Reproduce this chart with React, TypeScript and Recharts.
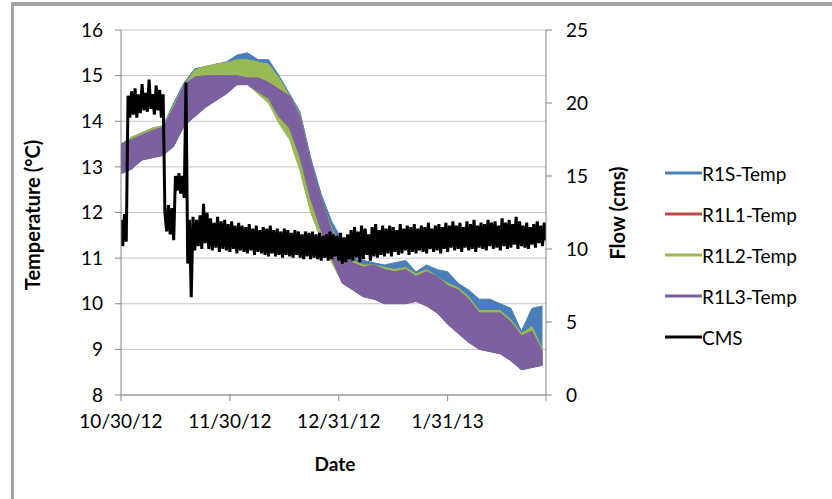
import React from "react";
import { Area, CartesianGrid, ComposedChart, Line, XAxis, YAxis } from "recharts";

// days since 10/30/12
const tickDays = [0, 31, 62, 93, 121];
const tickLabels = ["10/30/12", "11/30/12", "12/31/12", "1/31/13", ""];
const tempTicks = [8, 9, 10, 11, 12, 13, 14, 15, 16];
const flowTicks = [0, 5, 10, 15, 20, 25];

const tDays = [0, 3, 6, 9, 12, 15, 18, 21, 24, 27, 30, 33, 36, 39, 42, 45, 48, 51, 54, 57, 60, 63, 66, 69, 72, 75, 78, 81, 84, 87, 90, 93, 96, 99, 102, 105, 108, 111, 114, 117, 120];

const r1sLo = [12.9, 13.0, 13.2, 13.25, 13.3, 13.5, 13.95, 14.15, 14.35, 14.5, 14.65, 14.85, 14.85, 14.7, 14.55, 14.2, 13.95, 13.4, 12.5, 11.75, 11.1, 10.5, 10.35, 10.2, 10.15, 10.05, 10.05, 10.05, 10.1, 10.0, 9.85, 9.6, 9.4, 9.2, 9.05, 9.0, 8.95, 8.8, 8.6, 8.65, 8.7];
const r1sHi = [13.5, 13.65, 13.75, 13.85, 13.9, 14.4, 14.85, 15.15, 15.2, 15.25, 15.3, 15.45, 15.5, 15.35, 15.35, 15.0, 14.6, 14.2, 13.2, 12.4, 11.8, 11.4, 11.0, 10.95, 10.9, 10.85, 10.9, 10.95, 10.7, 10.85, 10.75, 10.7, 10.45, 10.3, 10.1, 10.1, 10.0, 9.9, 9.4, 9.9, 9.95];
const r1l1Lo = [12.86, 12.96, 13.16, 13.21, 13.26, 13.46, 13.91, 14.11, 14.31, 14.46, 14.61, 14.81, 14.81, 14.66, 14.51, 14.11, 13.86, 13.21, 12.31, 11.61, 11.01, 10.46, 10.31, 10.16, 10.11, 10.01, 10.01, 10.01, 10.06, 9.96, 9.81, 9.56, 9.36, 9.16, 9.01, 8.96, 8.91, 8.76, 8.56, 8.61, 8.66];
const r1l1Hi = [13.45, 13.55, 13.65, 13.75, 13.82, 14.25, 14.75, 14.92, 14.95, 14.95, 14.95, 14.95, 14.9, 14.9, 14.8, 14.65, 14.5, 14.05, 13.05, 12.25, 11.55, 11.15, 10.85, 10.75, 10.8, 10.7, 10.65, 10.7, 10.55, 10.65, 10.55, 10.35, 10.25, 10.05, 9.75, 9.75, 9.75, 9.55, 9.25, 9.35, 8.9];
const r1l2Lo = [12.86, 12.96, 13.16, 13.21, 13.26, 13.46, 13.91, 14.11, 14.31, 14.46, 14.61, 14.81, 14.81, 14.6, 14.4, 13.95, 13.6, 12.9, 12.0, 11.4, 10.9, 10.46, 10.31, 10.16, 10.11, 10.01, 10.01, 10.01, 10.06, 9.96, 9.81, 9.56, 9.36, 9.16, 9.01, 8.96, 8.91, 8.76, 8.56, 8.61, 8.66];
const r1l2Hi = [13.5, 13.65, 13.75, 13.85, 13.9, 14.35, 14.8, 15.12, 15.2, 15.25, 15.28, 15.35, 15.35, 15.3, 15.25, 14.95, 14.55, 14.15, 13.1, 12.3, 11.65, 11.25, 10.95, 10.85, 10.85, 10.8, 10.75, 10.8, 10.65, 10.75, 10.6, 10.45, 10.35, 10.15, 9.85, 9.85, 9.85, 9.65, 9.35, 9.5, 9.0];
const r1l3Lo = [12.85, 12.95, 13.15, 13.2, 13.25, 13.45, 13.9, 14.1, 14.3, 14.45, 14.6, 14.8, 14.8, 14.65, 14.5, 14.1, 13.85, 13.2, 12.3, 11.6, 11.0, 10.45, 10.3, 10.15, 10.1, 10.0, 10.0, 10.0, 10.05, 9.95, 9.8, 9.55, 9.35, 9.15, 9.0, 8.95, 8.9, 8.75, 8.55, 8.6, 8.65];
const r1l3Hi = [13.5, 13.6, 13.7, 13.8, 13.87, 14.3, 14.8, 14.97, 15.0, 15.0, 15.0, 15.0, 14.95, 14.95, 14.85, 14.7, 14.55, 14.1, 13.1, 12.3, 11.6, 11.2, 10.9, 10.8, 10.85, 10.75, 10.7, 10.75, 10.6, 10.7, 10.6, 10.4, 10.3, 10.1, 9.8, 9.8, 9.8, 9.6, 9.3, 9.4, 8.95];

const cmsDays = [
  0, 0.5, 1, 1.5, 2, 2.5, 3, 3.5, 4, 4.5, 5, 5.5, 6, 6.5, 7, 7.5, 8, 8.5, 9, 9.5, 10, 10.5, 11, 11.5, 12, 12.5,
  13, 13.5, 14, 14.5, 15, 15.5, 16, 16.5, 17, 17.5, 18, 18.5, 19, 19.5, 20, 20.5, 21, 21.5, 22, 22.5, 23, 23.5, 24, 24.5, 25,
  25.5, 26, 26.5, 27, 27.5, 28, 28.5, 29, 29.5, 30, 30.5, 31, 31.5, 32, 32.5, 33, 33.5, 34, 34.5, 35,
  35.5, 36, 36.5, 37, 37.5, 38, 38.5, 39, 39.5, 40, 40.5, 41, 41.5, 42, 42.5, 43, 43.5, 44, 44.5, 45,
  45.5, 46, 46.5, 47, 47.5, 48, 48.5, 49, 49.5, 50, 50.5, 51, 51.5, 52, 52.5, 53, 53.5, 54, 54.5, 55,
  55.5, 56, 56.5, 57, 57.5, 58, 58.5, 59, 59.5, 60, 60.5, 61, 61.5, 62, 62.5, 63, 63.5, 64, 64.5, 65,
  65.5, 66, 66.5, 67, 67.5, 68, 68.5, 69, 69.5, 70, 70.5, 71, 71.5, 72, 72.5, 73, 73.5, 74, 74.5, 75,
  75.5, 76, 76.5, 77, 77.5, 78, 78.5, 79, 79.5, 80, 80.5, 81, 81.5, 82, 82.5, 83, 83.5, 84, 84.5, 85,
  85.5, 86, 86.5, 87, 87.5, 88, 88.5, 89, 89.5, 90, 90.5, 91, 91.5, 92, 92.5, 93, 93.5, 94, 94.5, 95,
  95.5, 96, 96.5, 97, 97.5, 98, 98.5, 99, 99.5, 100, 100.5, 101, 101.5, 102, 102.5, 103, 103.5, 104, 104.5, 105,
  105.5, 106, 106.5, 107, 107.5, 108, 108.5, 109, 109.5, 110, 110.5, 111, 111.5, 112, 112.5, 113, 113.5, 114, 114.5, 115,
  115.5, 116, 116.5, 117, 117.5, 118, 118.5, 119, 119.5, 120, 120.5, 121,
];
const cmsFlow = [
  12.0, 10.2, 12.4, 10.5, 20.5, 19.0, 20.8, 19.2, 21.0, 19.0, 20.6, 19.3, 21.3, 19.5, 20.7, 19.4, 21.6, 19.6, 20.6, 19.2, 21.2, 19.5, 20.9, 19.0, 20.6, 12.5,
  11.2, 13.0, 11.0, 12.8, 10.6, 15.0, 14.0, 15.2, 13.8, 15.0, 13.5, 21.4, 9.0, 12.0, 6.7, 12.2, 9.9, 12.0, 10.2, 12.3, 10.0, 13.1, 10.4, 12.5, 10.0,
  12.1, 9.9, 11.8, 10.1, 12.2, 9.8, 11.9, 10.0, 12.0, 9.9, 11.7, 9.8, 11.9, 10.0, 11.6, 9.7, 11.8, 9.9, 11.6, 9.8,
  11.5, 9.7, 11.7, 9.9, 11.4, 9.6, 11.6, 9.8, 11.3, 9.7, 11.5, 9.6, 11.4, 9.5, 11.6, 9.7, 11.3, 9.5, 11.4, 9.6,
  11.2, 9.4, 11.4, 9.6, 11.3, 9.5, 11.1, 9.4, 11.3, 9.6, 11.2, 9.4, 11.0, 9.3, 11.2, 9.5, 11.1, 9.3, 11.2, 9.4,
  11.0, 9.3, 11.1, 9.2, 10.9, 9.4, 11.0, 9.2, 11.2, 9.3, 11.0, 9.5, 10.9, 9.2, 11.1, 9.0, 10.8, 9.1, 11.0, 9.3,
  11.3, 9.2, 11.5, 9.4, 11.2, 9.1, 11.6, 9.3, 11.4, 9.6, 11.0, 9.2, 11.5, 9.5, 11.7, 9.4, 11.3, 9.6, 11.6, 9.5,
  11.4, 9.7, 11.6, 9.5, 11.5, 9.8, 11.3, 9.6, 11.7, 9.7, 11.4, 9.9, 11.6, 9.6, 11.5, 9.8, 11.7, 9.7, 11.4, 9.9,
  11.6, 9.8, 11.5, 9.7, 11.8, 10.0, 11.4, 9.8, 11.6, 9.9, 11.7, 9.7, 11.5, 10.0, 11.8, 9.8, 11.6, 10.1, 11.9, 9.9,
  11.6, 10.0, 11.8, 9.8, 11.5, 10.1, 11.9, 9.9, 11.7, 10.0, 12.0, 9.8, 11.6, 10.1, 11.8, 10.0, 11.7, 9.9, 12.0, 10.2,
  11.8, 10.0, 11.9, 10.1, 11.6, 9.9, 12.1, 10.2, 11.8, 10.0, 12.0, 10.1, 11.7, 10.3, 12.2, 10.0, 11.9, 10.2, 11.6, 10.1,
  11.8, 10.0, 11.5, 10.3, 11.7, 10.1, 11.9, 10.4, 11.6, 10.2, 11.8, 10.6,
];

const seriesNames = ["R1S-Temp", "R1L1-Temp", "R1L2-Temp", "R1L3-Temp", "CMS"];
const seriesColors = ["#4a7ebb", "#be4b48", "#98b954", "#7d60a0", "#000000"];

const tempRows = tDays.map((d, i) => ({
  day: d,
  r1s: [r1sLo[i], r1sHi[i]],
  r1l1: [r1l1Lo[i], r1l1Hi[i]],
  r1l2: [r1l2Lo[i], r1l2Hi[i]],
  r1l3: [r1l3Lo[i], r1l3Hi[i]],
}));
const cmsRows = cmsDays.map((d, i) => ({ day: d, cms: cmsFlow[i] }));

const font = "Lato, 'Open Sans', sans-serif";
const tickStyle = { fill: "#000", fontSize: 19, fontFamily: font };
const axisGray = "#868686";

export default function App() {
  const keys = ["r1s", "r1l1", "r1l2", "r1l3"];
  return (
    <div style={{ position: "absolute", left: 0, top: 0, width: 832, height: 499, background: "#fff", overflow: "hidden", fontFamily: font }}>
      <div style={{ position: "absolute", left: 11, top: 2, width: 821, height: 4, background: "#a3a3a3" }} />
      <div style={{ position: "absolute", left: 11, top: 2, width: 3, height: 497, background: "#a3a3a3" }} />
      <ComposedChart width={832} height={499} data={tempRows} margin={{ top: 30, right: 246, bottom: 74, left: 81 }}>
        <CartesianGrid yAxisId="temp" vertical={false} stroke="#c4c4c4" />
        <XAxis
          dataKey="day"
          type="number"
          domain={[0, 121]}
          ticks={tickDays}
          tickFormatter={(v: number) => tickLabels[tickDays.indexOf(v)] ?? ""}
          interval={0}
          allowDataOverflow
          height={30}
          tickSize={6}
          tickMargin={14}
          stroke={axisGray}
          tick={tickStyle}
        />
        <YAxis
          yAxisId="temp"
          domain={[8, 16]}
          ticks={tempTicks}
          interval={0}
          width={40}
          tickSize={6}
          tickMargin={12}
          stroke={axisGray}
          tick={tickStyle}
        />
        <YAxis
          yAxisId="flow"
          orientation="right"
          domain={[0, 25]}
          ticks={flowTicks}
          interval={0}
          width={40}
          tickSize={6}
          tickMargin={14}
          stroke={axisGray}
          tick={{ ...tickStyle, textAnchor: "start" }}
        />
        {keys.map((k, i) => (
          <Area
            key={k}
            yAxisId="temp"
            dataKey={k}
            type="linear"
            fill={seriesColors[i]}
            fillOpacity={1}
            stroke={seriesColors[i]}
            strokeWidth={1}
            isAnimationActive={false}
            dot={false}
            activeDot={false}
          />
        ))}
        <Line
          yAxisId="flow"
          data={cmsRows}
          dataKey="cms"
          type="linear"
          stroke="#000"
          strokeWidth={3}
          dot={false}
          activeDot={false}
          isAnimationActive={false}
        />
      </ComposedChart>
      <div style={{ position: "absolute", left: 32, top: 215, transform: "translate(-50%, -50%) rotate(-90deg)", fontWeight: 700, fontSize: 20, whiteSpace: "nowrap" }}>
        Temperature (°C)
      </div>
      <div style={{ position: "absolute", left: 617, top: 213, transform: "translate(-50%, -50%) rotate(-90deg)", fontWeight: 700, fontSize: 20, whiteSpace: "nowrap" }}>
        Flow (cms)
      </div>
      <div style={{ position: "absolute", left: 335, top: 463, transform: "translate(-50%, -50%)", fontWeight: 700, fontSize: 19 }}>
        Date
      </div>
      {seriesNames.map((name, i) => (
        <div key={name} style={{ position: "absolute", left: 665, top: 173 + i * 41, transform: "translateY(-50%)", display: "flex", alignItems: "center", fontSize: 19 }}>
          <span style={{ display: "inline-block", width: 37, height: 3, background: seriesColors[i] }} />
          <span>{name}</span>
        </div>
      ))}
    </div>
  );
}
